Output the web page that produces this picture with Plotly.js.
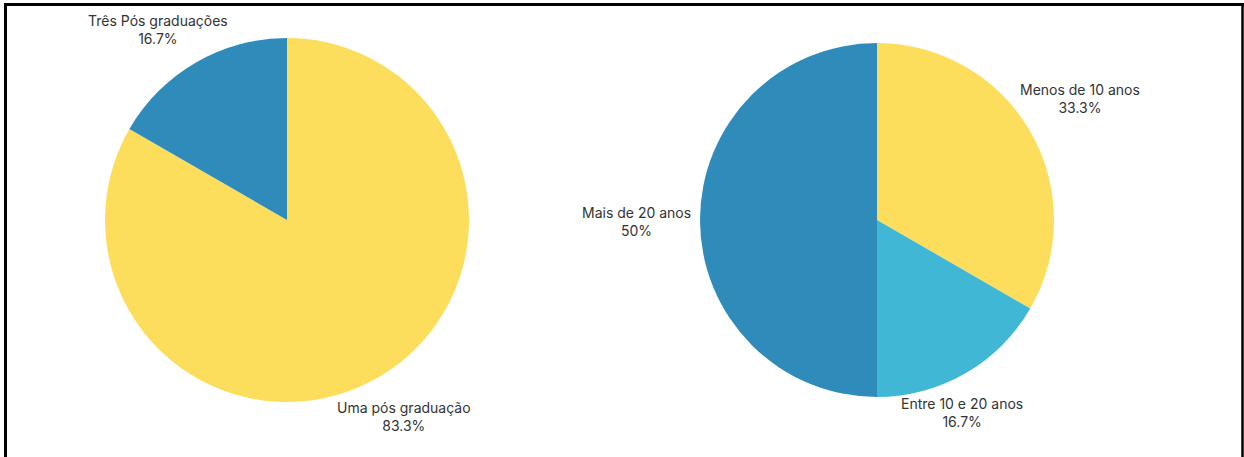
<!DOCTYPE html>
<html>
<head>
<meta charset="utf-8">
<script src="https://cdn.plot.ly/plotly-3.0.1.min.js"></script>
<style>html,body{margin:0;padding:0;background:#fff;}#chart{width:1244px;height:457px;}</style>
</head>
<body>
<div id="chart"></div>
<script>
// Left chart: number of post-graduations
const posLabels = ["Uma pós graduação", "Três Pós graduações"];
const posValues = [5, 1];
const posColors = ["#FDDD5C", "#2E8BBA"];

// Right chart: years of experience
const anosLabels = ["Menos de 10 anos", "Entre 10 e 20 anos", "Mais de 20 anos"];
const anosValues = [2, 1, 3];
const anosColors = ["#FDDD5C", "#41B7D6", "#2E8BBA"];

const W = 1244, H = 457;
function dom(cx, cy, r) {
  return {x: [(cx - r) / W, (cx + r) / W], y: [(H - cy - r) / H, (H - cy + r) / H]};
}
const font = {family: "Inter, 'Noto Sans', sans-serif", size: 14, color: "#333333"};

function pct(values, i) {
  const s = values.reduce((a, b) => a + b, 0);
  return Number((values[i] / s * 100).toPrecision(3)) + "%";
}

// label centre positions (pixels) for each slice label
const posLabelPos = [[404, 416], [158, 29]];
const anosLabelPos = [[1080, 99], [962, 412], [636, 221]];

const annotations = [];
function addLabels(labels, values, positions) {
  labels.forEach((lab, i) => {
    annotations.push({
      xref: "paper", yref: "paper",
      x: positions[i][0] / W, y: (H - positions[i][1]) / H,
      xanchor: "center", yanchor: "middle", align: "center",
      text: lab + "<br>" + pct(values, i),
      showarrow: false, font: font
    });
  });
}
addLabels(posLabels, posValues, posLabelPos);
addLabels(anosLabels, anosValues, anosLabelPos);

const traces = [
  {
    type: "pie", labels: posLabels, values: posValues, marker: {colors: posColors, line: {width: 0}},
    sort: false, direction: "clockwise", rotation: 0, textinfo: "none",
    domain: dom(287, 220, 182), automargin: false, hoverinfo: "label+percent", showlegend: false
  },
  {
    type: "pie", labels: anosLabels, values: anosValues, marker: {colors: anosColors, line: {width: 0}},
    sort: false, direction: "clockwise", rotation: 0, textinfo: "none",
    domain: dom(877, 220, 177), automargin: false, hoverinfo: "label+percent", showlegend: false
  }
];

const layout = {
  width: W, height: H,
  margin: {l: 0, r: 0, t: 0, b: 0},
  paper_bgcolor: "#ffffff",
  showlegend: false,
  font: font,
  annotations: annotations,
  shapes: [
    {type: "line", xref: "paper", yref: "paper", x0: 5.5 / W, x1: 5.5 / W, y0: 0, y1: (H - 3) / H, line: {color: "#000", width: 3}},
    {type: "line", xref: "paper", yref: "paper", x0: 4 / W, x1: 1244 / W, y0: (H - 4.5) / H, y1: (H - 4.5) / H, line: {color: "#000", width: 3}},
    {type: "line", xref: "paper", yref: "paper", x0: 1242.5 / W, x1: 1242.5 / W, y0: 0, y1: (H - 3) / H, line: {color: "#000", width: 2.5}}
  ]
};

Plotly.newPlot("chart", traces, layout, {displayModeBar: false, staticPlot: true});
</script>
</body>
</html>
